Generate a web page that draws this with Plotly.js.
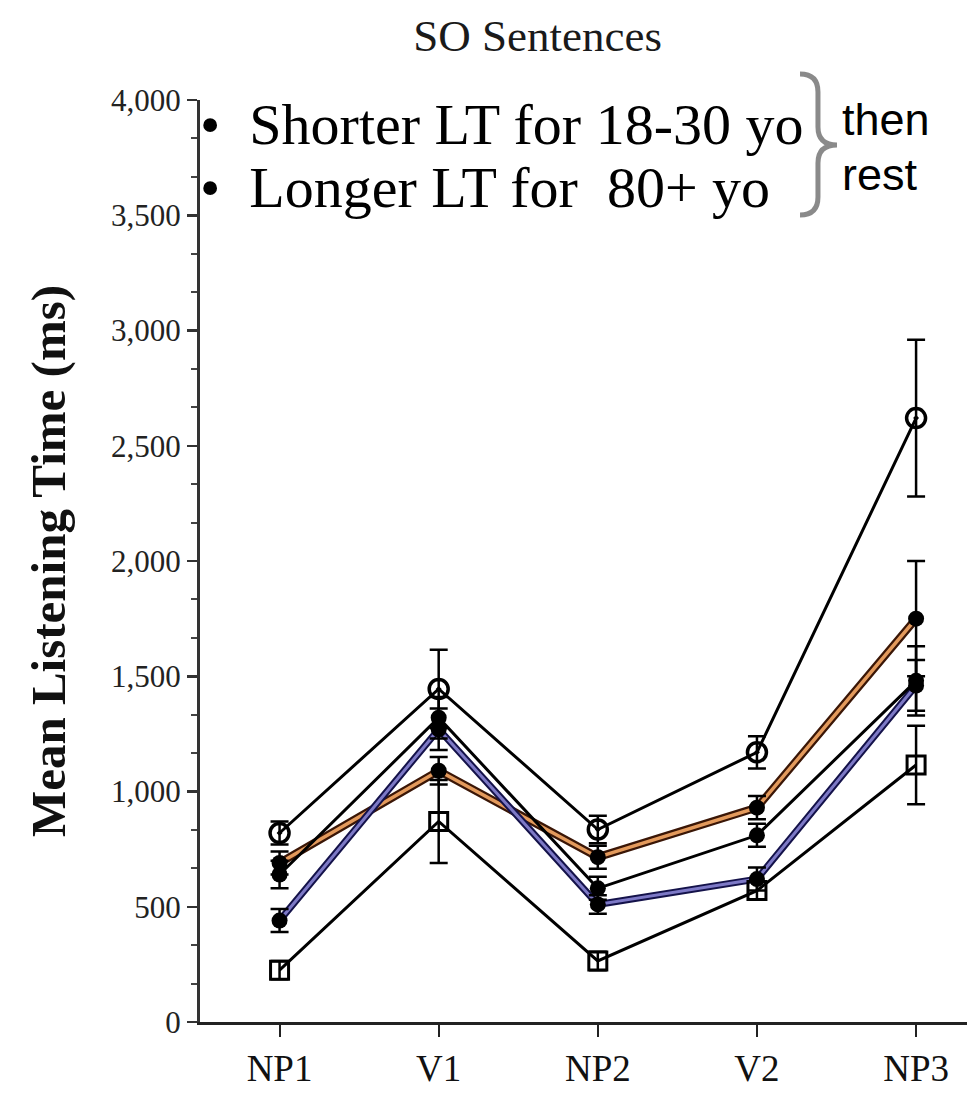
<!DOCTYPE html>
<html><head><meta charset="utf-8">
<script src="https://cdn.plot.ly/plotly-3.0.1.min.js"></script>
<style>html,body{margin:0;padding:0;background:#fff}#chart{width:967px;height:1104px}</style>
</head><body><div id="chart"></div>
<script>
const categories = ['NP1', 'V1', 'NP2', 'V2', 'NP3'];
const tickLabels = ['NP1', 'V1', 'NP2', 'V2', 'NP3'];
const age80Plus = [820, 1445, 835, 1170, 2620];
const age80PlusErr = [50, 170, 60, 70, 340];
const age18to30 = [225, 870, 265, 570, 1115];
const age18to30Err = [40, 180, 40, 40, 170];
const groupOrange = [690, 1090, 715, 930, 1750];
const groupOrangeErr = [50, 60, 50, 50, 250];
const groupBlack = [640, 1320, 580, 810, 1480];
const groupBlackErr = [60, 90, 50, 50, 150];
const groupBlue = [440, 1270, 510, 620, 1460];
const groupBlueErr = [50, 90, 40, 50, 110];
const yTickVals = [0, 500, 1000, 1500, 2000, 2500, 3000, 3500, 4000];
const yTickText = ['0', '500', '1,000', '1,500', '2,000', '2,500', '3,000', '3,500', '4,000'];

// layout helpers (pixel -> paper)
const L = 200, R = 967, T = 100, B = 1022;
const px = x => (x - L) / (R - L);
const py = y => (B - y) / (B - T);

function err(arr) { return {type: 'data', array: arr, visible: true, color: '#000', thickness: 2.5, width: 9}; }

const traces = [
  // orange highlight band (dark edge + orange core)
  {x: categories, y: groupOrange, mode: 'lines', line: {color: '#3a1606', width: 8}, hoverinfo: 'skip'},
  {x: categories, y: groupOrange, mode: 'lines', line: {color: '#e39a5c', width: 3.5}, hoverinfo: 'skip'},
  // blue highlight band
  {x: categories, y: groupBlue, mode: 'lines', line: {color: '#14124a', width: 7}, hoverinfo: 'skip'},
  {x: categories, y: groupBlue, mode: 'lines', line: {color: '#7d79c6', width: 3}, hoverinfo: 'skip'},
  // black series
  {x: categories, y: groupBlack, mode: 'lines+markers', error_y: err(groupBlackErr),
   line: {color: '#000', width: 3}, marker: {symbol: 'circle', size: 16, color: '#000'}},
  {x: categories, y: groupOrange, mode: 'markers', error_y: err(groupOrangeErr),
   marker: {symbol: 'circle', size: 16, color: '#000'}},
  {x: categories, y: groupBlue, mode: 'markers', error_y: err(groupBlueErr),
   marker: {symbol: 'circle', size: 16, color: '#000'}},
  {x: categories, y: age18to30, mode: 'lines+markers', error_y: err(age18to30Err),
   line: {color: '#000', width: 3}, marker: {symbol: 'square-open', size: 18, color: '#000', line: {width: 3, color: '#000'}}},
  {x: categories, y: age80Plus, mode: 'lines+markers', error_y: err(age80PlusErr),
   line: {color: '#000', width: 3}, marker: {symbol: 'circle-open-dot', size: 19, color: '#000', line: {width: 3.5, color: '#000'}}}
];

function bracePath() {
  const pts = [
    ['M', 800, 74], ['Q', 818, 74, 818, 92], ['L', 818, 127], ['Q', 818, 145, 837, 145],
    ['Q', 818, 145, 818, 163], ['L', 818, 197], ['Q', 818, 215, 800, 215]
  ];
  return pts.map(p => {
    let s = p[0];
    for (let i = 1; i < p.length; i += 2) s += ' ' + px(p[i]).toFixed(4) + ',' + py(p[i + 1]).toFixed(4);
    return s;
  }).join(' ');
}

const serif = '"Liberation Serif", "Times New Roman", serif';
const sans = '"Liberation Sans", Arial, sans-serif';

const layout = {
  width: 967, height: 1104,
  margin: {l: L, r: 967 - R, t: T, b: 1104 - B, pad: 0},
  paper_bgcolor: '#fff', plot_bgcolor: '#fff',
  showlegend: false,
  title: {text: 'SO Sentences', font: {family: serif, size: 45, color: '#1a1a1a'}, x: 0.556, xanchor: 'center', y: 0.968, yanchor: 'middle'},
  xaxis: {
    type: 'category', range: [-0.5, 4.32], tickvals: categories, ticktext: tickLabels,
    showgrid: false, zeroline: false, showline: true, linecolor: '#222', linewidth: 3,
    ticks: 'outside', ticklen: 12, tickwidth: 2, tickcolor: '#222',
    tickfont: {family: serif, size: 37, color: '#111'}
  },
  yaxis: {
    range: [0, 4000], tickvals: yTickVals, ticktext: yTickText,
    showgrid: false, zeroline: false, showline: true, linecolor: '#333', linewidth: 3,
    ticks: 'outside', ticklen: 10, tickwidth: 2.5, tickcolor: '#333',
    minor: {dtick: 500 / 3, ticks: 'outside', ticklen: 6, tickwidth: 2, tickcolor: '#444', showgrid: false},
    tickfont: {family: serif, size: 31, color: '#222'},
    title: {text: '<b>Mean Listening Time (ms)</b>', font: {family: serif, size: 49, color: '#111'}, standoff: 30}
  },
  annotations: [
    {xref: 'paper', yref: 'paper', x: px(198), y: py(125), xanchor: 'left', yanchor: 'middle', showarrow: false,
     text: '•\u00a0\u00a0Shorter LT for 18-30 yo', font: {family: serif, size: 58, color: '#000'}},
    {xref: 'paper', yref: 'paper', x: px(198), y: py(188), xanchor: 'left', yanchor: 'middle', showarrow: false,
     text: '•\u00a0\u00a0Longer LT for \u00a080+ yo', font: {family: serif, size: 58, color: '#000'}},
    {xref: 'paper', yref: 'paper', x: px(840), y: py(120), xanchor: 'left', yanchor: 'middle', showarrow: false,
     text: 'then', font: {family: sans, size: 45, color: '#000'}},
    {xref: 'paper', yref: 'paper', x: px(840), y: py(174), xanchor: 'left', yanchor: 'middle', showarrow: false,
     text: 'rest', font: {family: sans, size: 45, color: '#000'}}
  ],
  shapes: [
    {type: 'path', xref: 'paper', yref: 'paper', path: bracePath(), line: {color: '#8a8a8a', width: 5}}
  ]
};

Plotly.newPlot('chart', traces, layout, {displayModeBar: false, staticPlot: true});
</script>
</body></html>
